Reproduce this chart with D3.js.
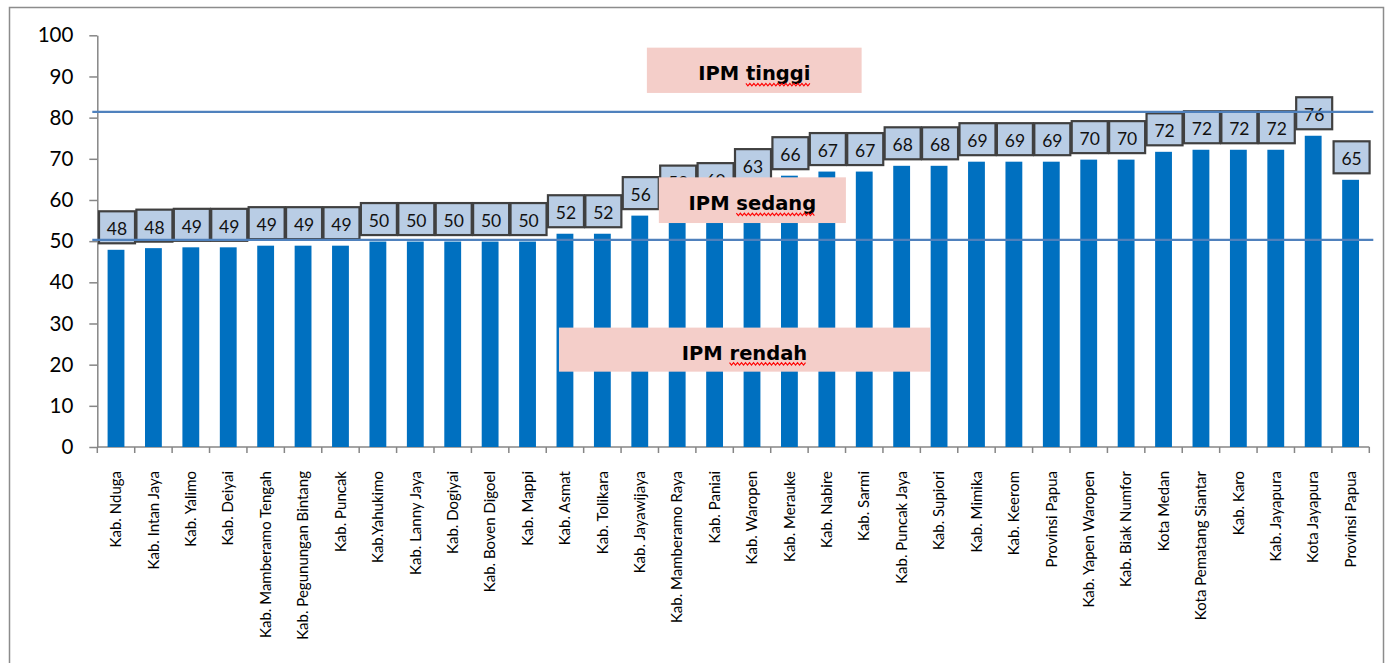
<!DOCTYPE html>
<html>
<head>
<meta charset="utf-8">
<script src="https://cdn.jsdelivr.net/npm/d3@7"></script>
<style>
  html, body { margin: 0; padding: 0; background: #fff; }
  svg { display: block; }
</style>
</head>
<body>
<svg id="chart" width="1386" height="663"></svg>
<script>
const categories = [
  "Kab. Nduga", "Kab. Intan Jaya", "Kab. Yalimo", "Kab. Deiyai", "Kab. Mamberamo Tengah",
  "Kab. Pegunungan Bintang", "Kab. Puncak", "Kab.Yahukimo", "Kab. Lanny Jaya", "Kab. Dogiyai",
  "Kab. Boven Digoel", "Kab. Mappi", "Kab. Asmat", "Kab. Tolikara", "Kab. Jayawijaya",
  "Kab. Mamberamo Raya", "Kab. Paniai", "Kab. Waropen", "Kab. Merauke", "Kab. Nabire",
  "Kab. Sarmi", "Kab. Puncak Jaya", "Kab. Supiori", "Kab. Mimika", "Kab. Keerom",
  "Provinsi Papua", "Kab. Yapen Waropen", "Kab. Biak Numfor", "Kota Medan", "Kota Pematang Siantar",
  "Kab. Karo", "Kab. Jayapura", "Kota Jayapura", "Provinsi Papua"
];
const values = [
  47.9, 48.3, 48.5, 48.5, 48.9, 48.9, 48.9, 49.9, 49.9, 49.9,
  49.9, 49.9, 51.8, 51.8, 56.2, 59.0, 59.6, 63.0, 65.9, 66.9,
  66.9, 68.3, 68.3, 69.3, 69.3, 69.3, 69.8, 69.8, 71.7, 72.2,
  72.2, 72.2, 75.6, 64.9
];
const valueLabels = [
  "48", "48", "49", "49", "49", "49", "49", "50", "50", "50",
  "50", "50", "52", "52", "56", "59", "60", "63", "66", "67",
  "67", "68", "68", "69", "69", "69", "70", "70", "72", "72",
  "72", "72", "76", "65"
];
const yTicks = [0, 10, 20, 30, 40, 50, 60, 70, 80, 90, 100];
const thresholdLines = [81.4, 50.3];
// annotation boxes in data space: category-index range and value range
const annoText = ["IPM tinggi", "IPM sedang", "IPM rendah"];
const annoIdxFrom = [14.69, 15.01, 12.34];
const annoIdxTo   = [20.43, 20.01, 22.26];
const annoValTop  = [97.0, 65.5, 29.0];
const annoValBot  = [86.0, 54.4, 18.3];

const svg = d3.select("#chart");
const plotLeft = 97.3, plotRight = 1369.3, plotTop = 35.3, plotBottom = 447;

const x = d3.scaleBand().domain(d3.range(categories.length)).range([plotLeft, plotRight]).paddingInner(0.55).paddingOuter(0.275);
const xIdx = d3.scaleLinear().domain([0, categories.length]).range([plotLeft, plotRight]);
const y = d3.scaleLinear().domain([0, 100]).range([plotBottom, plotTop]);

// outer frame
svg.append("rect").attr("x", 9.5).attr("y", 7.5).attr("width", 1374).attr("height", 680)
  .attr("fill", "none").attr("stroke", "#8c8c8c").attr("stroke-width", 1.5);

// y axis
const yAxis = svg.append("g").attr("transform", `translate(${plotLeft},0)`)
  .call(d3.axisLeft(y).tickValues(yTicks).tickSize(8).tickSizeOuter(0).tickPadding(16));
yAxis.select(".domain").attr("stroke", "#868686").attr("stroke-width", 1.5);
yAxis.selectAll(".tick line").attr("stroke", "#868686").attr("stroke-width", 1.5);
yAxis.selectAll(".tick text").attr("font-family", "Lato, sans-serif").attr("font-size", 20.5).attr("fill", "#000");

// x axis line and boundary ticks
svg.append("line").attr("x1", plotLeft).attr("x2", plotRight).attr("y1", plotBottom).attr("y2", plotBottom)
  .attr("stroke", "#868686").attr("stroke-width", 1.5);
svg.append("g").selectAll("line").data(d3.range(categories.length + 1)).join("line")
  .attr("x1", d => xIdx(d)).attr("x2", d => xIdx(d))
  .attr("y1", plotBottom).attr("y2", plotBottom + 6)
  .attr("stroke", "#868686").attr("stroke-width", 1.5);

// x labels
svg.append("g").selectAll("text").data(categories).join("text")
  .attr("transform", (d, i) => `translate(${x(i) + x.bandwidth() / 2},471) rotate(-90)`)
  .attr("text-anchor", "end").attr("dy", "0.35em")
  .attr("font-family", "Lato, sans-serif").attr("font-size", 15).attr("fill", "#000")
  .text(d => d);

// bars
svg.append("g").selectAll("rect").data(values).join("rect")
  .attr("x", (d, i) => x(i)).attr("width", x.bandwidth())
  .attr("y", d => y(d)).attr("height", d => y(0) - y(d))
  .attr("fill", "#0070c0");

// value label boxes
const boxW = 36, boxH = 32, gap = 6.5;
const lbl = svg.append("g").selectAll("g").data(values).join("g")
  .attr("transform", (d, i) => `translate(${x(i) + x.bandwidth() / 2 + 1},${y(d) - gap - boxH / 2})`);
lbl.append("rect").attr("x", -boxW / 2).attr("y", -boxH / 2).attr("width", boxW).attr("height", boxH)
  .attr("fill", "#b9cde5").attr("stroke", "#404040").attr("stroke-width", 2.2);
lbl.append("text").attr("text-anchor", "middle").attr("dy", "0.45em")
  .attr("font-family", "Lato, sans-serif").attr("font-size", 17.5).attr("fill", "#111")
  .text((d, i) => valueLabels[i]);

// threshold lines
svg.append("g").selectAll("line").data(thresholdLines).join("line")
  .attr("x1", plotLeft - 5).attr("x2", plotRight + 4)
  .attr("y1", d => y(d)).attr("y2", d => y(d))
  .attr("stroke", "#4f81bd").attr("stroke-width", 2.2);

// annotation boxes
annoText.forEach((t, k) => {
  const x0 = xIdx(annoIdxFrom[k]), x1 = xIdx(annoIdxTo[k]);
  const y0 = y(annoValTop[k]), y1 = y(annoValBot[k]);
  const cy = (y0 + y1) / 2 + 3;
  svg.append("rect").attr("x", x0).attr("y", y0).attr("width", x1 - x0).attr("height", y1 - y0)
    .attr("fill", "#f4cec9");
  const parts = t.split(" ");
  const tx = svg.append("text").attr("x", (x0 + x1) / 2).attr("y", cy).attr("dy", "0.36em")
    .attr("text-anchor", "middle").attr("font-family", "'DejaVu Sans', sans-serif")
    .attr("font-weight", "bold").attr("font-size", 19.5).attr("fill", "#000");
  tx.append("tspan").text(parts[0] + " ");
  tx.append("tspan").text(parts[1]);
  // spell-check style red wavy underline under the second word
  const node = tx.node();
  const total = node.getComputedTextLength();
  const startChar = parts[0].length + 1;
  const wStart = node.getSubStringLength(0, startChar);
  const wLen = node.getSubStringLength(startChar, parts[1].length);
  const left = (x0 + x1) / 2 - total / 2 + wStart;
  const baseY = cy + 10;
  const pts = [];
  for (let s = 0; s <= wLen; s += 2) pts.push([left + s, baseY + ((s / 2) % 2 === 0 ? 0 : 2.5)]);
  svg.append("path").attr("d", d3.line()(pts)).attr("fill", "none").attr("stroke", "#ff0000").attr("stroke-width", 1.1);
});
</script>
</body>
</html>
